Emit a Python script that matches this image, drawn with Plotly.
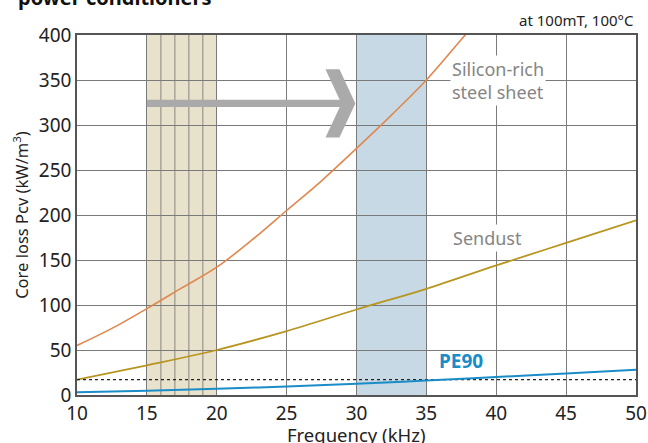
import plotly.graph_objects as go

# Data
freq_si = [10, 12.5, 15, 17.5, 20, 22.5, 25, 27.5, 30, 32.5, 35, 37.5, 40]
loss_si = [55, 74, 96, 119, 142, 172, 205, 238, 274, 311, 350, 395, 440]

freq_sd = [10, 15, 20, 25, 30, 35, 40, 45, 50]
loss_sd = [17, 33, 50, 71, 95, 118, 144, 169, 194]

freq_pe = [10, 15, 20, 25, 30, 35, 40, 45, 50]
loss_pe = [3, 4.8, 7, 9.5, 12.5, 16, 20, 24, 28]

ref_level = 17
band_low = [15, 20]
band_high = [30, 35]
band_low_lines = [16, 17, 18, 19]

x_ticks = [10, 15, 20, 25, 30, 35, 40, 45, 50]
y_ticks = [0, 50, 100, 150, 200, 250, 300, 350, 400]

FONT = "Noto Sans"

fig = go.Figure()

fig.add_trace(go.Scatter(x=freq_si, y=loss_si, mode="lines",
                         line=dict(color="#E0874E", width=1.6, shape="spline"),
                         showlegend=False, hoverinfo="skip"))
fig.add_trace(go.Scatter(x=freq_sd, y=loss_sd, mode="lines",
                         line=dict(color="#B8951F", width=1.8, shape="spline"),
                         showlegend=False, hoverinfo="skip"))
fig.add_trace(go.Scatter(x=[freq_pe[0], freq_pe[-1]], y=[ref_level, ref_level], mode="lines",
                         line=dict(color="#222222", width=1.3, dash="dot"),
                         showlegend=False, hoverinfo="skip"))
fig.add_trace(go.Scatter(x=freq_pe, y=loss_pe, mode="lines",
                         line=dict(color="#1A8CC8", width=2, shape="spline"),
                         showlegend=False, hoverinfo="skip"))

shapes = []
shapes.append(dict(type="rect", xref="x", yref="y", x0=band_low[0], x1=band_low[1], y0=0, y1=400,
                   fillcolor="#E8E1CB", line=dict(width=0), layer="below"))
shapes.append(dict(type="rect", xref="x", yref="y", x0=band_high[0], x1=band_high[1], y0=0, y1=400,
                   fillcolor="#C7D9E5", line=dict(width=0), layer="below"))
for xv in band_low_lines:
    shapes.append(dict(type="line", xref="x", yref="y", x0=xv, x1=xv, y0=0, y1=400,
                       line=dict(color="#A8A498", width=1.5), layer="below"))
# arrow shaft
shapes.append(dict(type="rect", xref="x", yref="y", x0=15, x1=29.0, y0=320, y1=328,
                   fillcolor="#AAAAAA", line=dict(width=0), layer="above"))
# arrow head (chevron)
shapes.append(dict(type="path", xref="x", yref="y",
                   path="M 27.78 362 L 28.78 362 L 29.92 324 L 28.78 286 L 27.78 286 L 28.92 324 Z",
                   fillcolor="#AAAAAA", line=dict(width=0), layer="above"))
fig.update_layout(shapes=shapes)

annotations = [
    dict(text="Silicon-rich<br>steel sheet", x=40.1, y=349, xref="x", yref="y", showarrow=False,
         font=dict(family=FONT, size=18, color="#858585"), bgcolor="white", align="left"),
    dict(text="Sendust", x=39.4, y=174, xref="x", yref="y", showarrow=False,
         font=dict(family=FONT, size=18, color="#858585"), bgcolor="white"),
    dict(text="<b>PE90</b>", x=37.5, y=38, xref="x", yref="y", showarrow=False,
         font=dict(family=FONT, size=19, color="#1A8CC8")),
    dict(text="at 100mT, 100°C", x=1, y=1.0, xref="paper", yref="paper", xanchor="right",
         yanchor="bottom", yshift=3, showarrow=False,
         font=dict(family=FONT, size=15, color="#222222")),
    dict(text="<b>power conditioners</b>", x=-0.11, y=1.105, xref="paper", yref="paper",
         xanchor="left", yanchor="middle", showarrow=False,
         font=dict(family=FONT, size=20, color="#111111")),
    dict(text="Frequency (kHz)", x=0.5, y=0, xref="paper", yref="paper", xanchor="center",
         yanchor="top", yshift=-25, showarrow=False,
         font=dict(family=FONT, size=18.5, color="#222222")),
]
fig.update_layout(annotations=annotations)

fig.update_xaxes(range=[10, 50], tickvals=x_ticks, ticktext=[str(v) for v in x_ticks],
                 showgrid=True, gridcolor="#7A7A7A", gridwidth=1.2,
                 showline=True, linecolor="#555555", linewidth=1.5, mirror=True,
                 zeroline=False, ticks="", ticklen=0, automargin=False,
                 tickfont=dict(family=FONT, size=19, color="#222222"))
fig.update_yaxes(range=[0, 400], tickvals=y_ticks, ticktext=[str(v) for v in y_ticks],
                 showgrid=True, gridcolor="#7A7A7A", gridwidth=1.2,
                 showline=True, linecolor="#555555", linewidth=1.5, mirror=True,
                 zeroline=False, ticks="", ticklen=0, automargin=False,
                 tickfont=dict(family=FONT, size=19, color="#222222"),
                 title=dict(text="Core loss Pcv (kW/m<sup>3</sup>)", standoff=6,
                            font=dict(family=FONT, size=16.5, color="#222222")))

fig.update_layout(width=648, height=443,
                  margin=dict(l=77, r=12, t=35, b=48),
                  plot_bgcolor="white", paper_bgcolor="white")

fig.write_html("out.html", config={"displayModeBar": False},
               post_script="document.body.style.margin='0';document.body.style.overflow='hidden';")
